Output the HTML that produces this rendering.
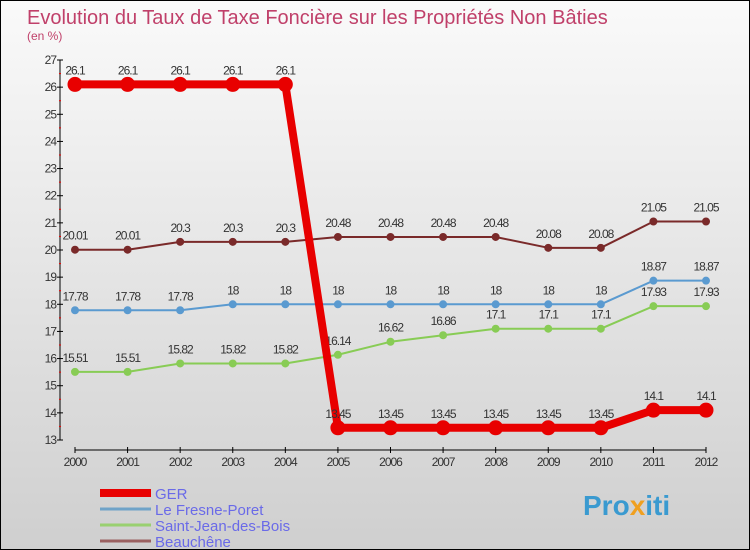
<!DOCTYPE html>
<html><head><meta charset="utf-8"><style>
body{margin:0;width:750px;height:550px;overflow:hidden}
svg{display:block;font-family:"Liberation Sans",sans-serif}
</style></head><body>
<svg id="chart" width="750" height="550">
<defs><linearGradient id="bg" x1="0" y1="0" x2="0" y2="1"><stop offset="0" stop-color="#fafafa"/><stop offset="1" stop-color="#cfcfcf"/></linearGradient></defs>
<rect x="0.5" y="0.5" width="749" height="549" fill="url(#bg)" stroke="#000"/>
<text x="27" y="24" font-size="20" fill="#c0406a">Evolution du Taux de Taxe Foncière sur les Propriétés Non Bâties</text>
<text x="27" y="40" font-size="12" fill="#c0406a">(en %)</text>
<g id="axes"></g><g id="series"></g><g id="legend"></g>
<text x="583" y="515" font-size="28" font-weight="bold" fill="#3a9ad0">Pro<tspan fill="#f0a020">x</tspan>iti</text>
</svg>
<script>
const years=[2000,2001,2002,2003,2004,2005,2006,2007,2008,2009,2010,2011,2012];
const yTicks=[13,14,15,16,17,18,19,20,21,22,23,24,25,26,27];
const gerVals=[26.1,26.1,26.1,26.1,26.1,13.45,13.45,13.45,13.45,13.45,13.45,14.1,14.1];
const fresneVals=[17.78,17.78,17.78,18,18,18,18,18,18,18,18,18.87,18.87];
const saintVals=[15.51,15.51,15.82,15.82,15.82,16.14,16.62,16.86,17.1,17.1,17.1,17.93,17.93];
const beauVals=[20.01,20.01,20.3,20.3,20.3,20.48,20.48,20.48,20.48,20.08,20.08,21.05,21.05];
const seriesNames=["GER","Le Fresne-Poret","Saint-Jean-des-Bois","Beauchêne"];
const NS="http://www.w3.org/2000/svg";
const X=i=>75+i*(706-75)/(years.length-1);
const Y=v=>440-(v-13)*(440-60)/14;
function mk(t,a,p){const e=document.createElementNS(NS,t);for(const k in a)e.setAttribute(k,a[k]);p.appendChild(e);return e;}
const ax=document.getElementById('axes');
let yl=mk('line',{x1:60,y1:60,x2:60,y2:440,stroke:'#000'},ax);


yTicks.forEach(v=>{mk('line',{x1:57,x2:63,y1:Y(v),y2:Y(v),stroke:'#000'},ax);
 if(v<27)mk('line',{x1:59,x2:61,y1:Y(v+0.5),y2:Y(v+0.5),stroke:'#e00'},ax);
 const t=mk('text',{x:56,y:Y(v)+4,'text-anchor':'end','font-size':12,fill:'#333','letter-spacing':'-1'},ax);t.textContent=v;
 
 });
let xl=mk('line',{x1:75,y1:450,x2:706,y2:450,stroke:'#000'},ax);


years.forEach((y,i)=>{mk('line',{x1:X(i),x2:X(i),y1:447,y2:453,stroke:'#000'},ax);
 const t=mk('text',{x:X(i),y:466,'text-anchor':'middle','font-size':12,fill:'#333','letter-spacing':'-1'},ax);t.textContent=y;
 
 });
const sg=document.getElementById('series');
function draw(vals,color,w,r,name,fill){
 const g=mk('g',{},sg);
 
 
 mk('polyline',{points:vals.map((v,i)=>X(i)+','+Y(v)).join(' '),fill:'none',stroke:color,'stroke-width':w,'stroke-linejoin':'round'},g);
 vals.forEach((v,i)=>{const c=mk('circle',{cx:X(i),cy:Y(v),r:r,fill:fill,stroke:color,'stroke-width':1},g);
  
  
  const t=mk('text',{x:X(i),y:Y(v)-10,'text-anchor':'middle','font-size':12,fill:'#333','letter-spacing':'-1'},g);t.textContent=v;
  
  });
}
draw(beauVals,'#7a2a2a',2,3.5,'beauchene','#7a2a2a');
draw(fresneVals,'#5a9ad0',2,3.5,'fresne-poret','#5a9ad0');
draw(saintVals,'#88cc55',2,3.5,'saint-jean-des-bois','#88cc55');
draw(gerVals,'#e80000',8,7,'ger','#e80000');
const lg=document.getElementById('legend');
const lc=['#e80000','#6fa3c8','#99d070','#9a6060'],lw=[8,3,3,3];
seriesNames.forEach((n,i)=>{const y=493+i*16;
 const l=mk('line',{x1:100,x2:151,y1:y+0,y2:y,stroke:lc[i],'stroke-width':lw[i]},lg);
 
 
 const t=mk('text',{x:155,y:y+6,'font-size':15,fill:'#6a6ae8'},lg);t.textContent=n;
 
 });
</script>
</body></html>
